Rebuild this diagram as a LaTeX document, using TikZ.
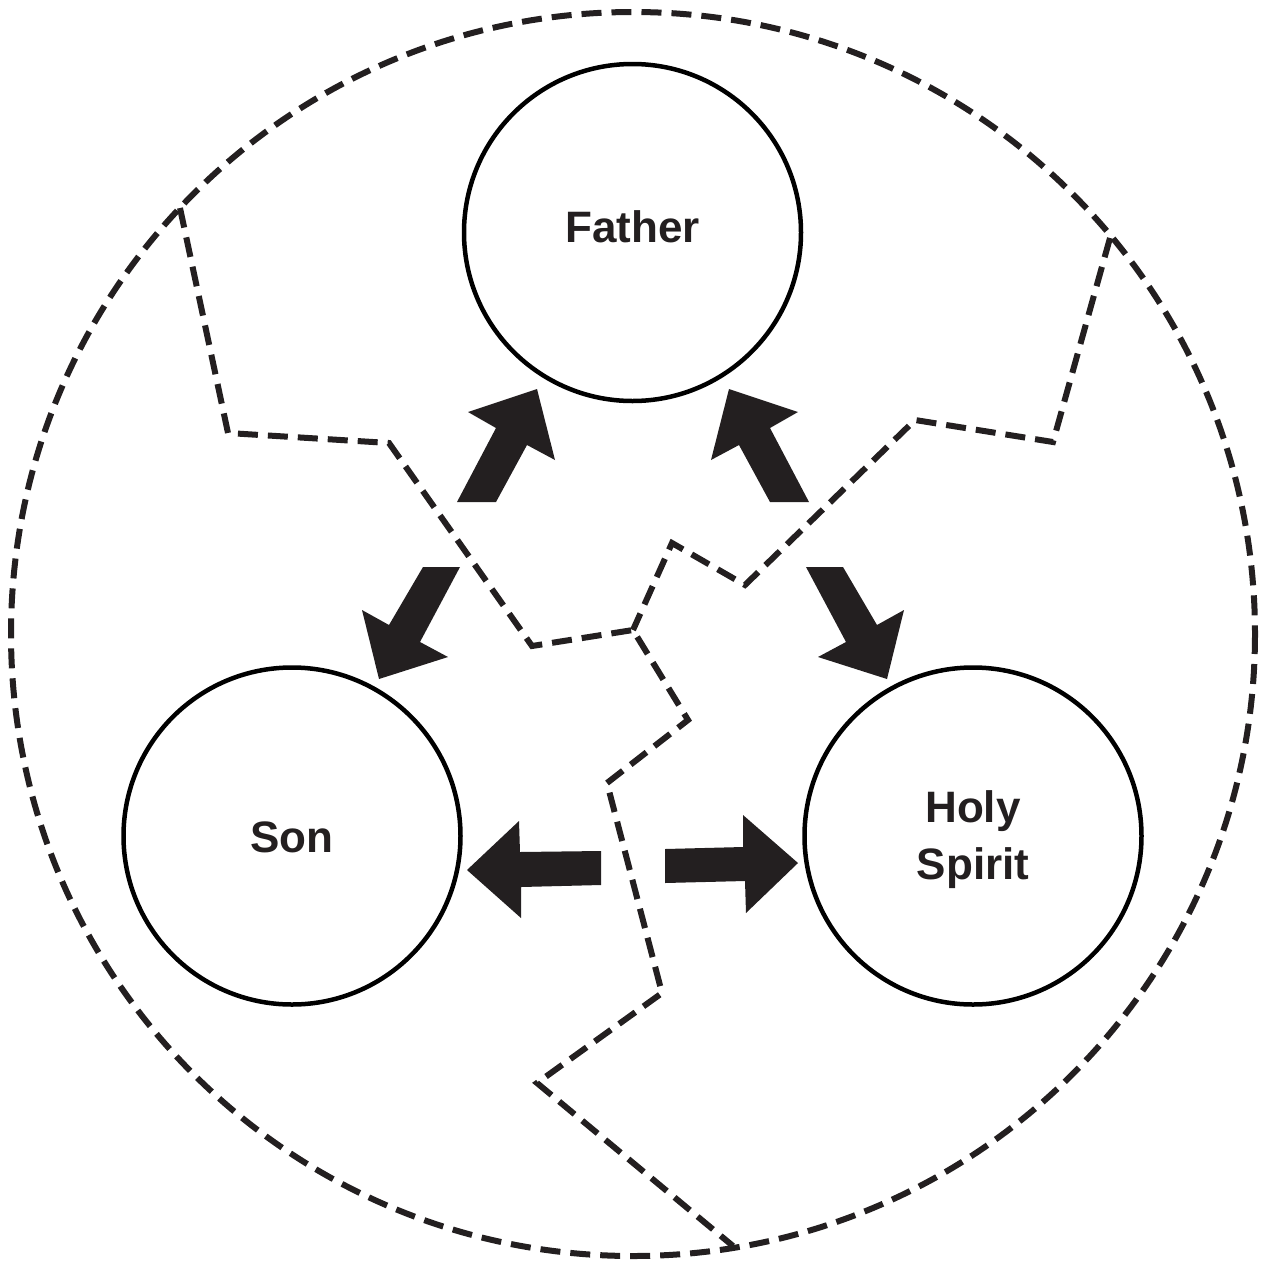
\documentclass[tikz,border=0pt]{standalone}
\usepackage{fontspec}
\setmainfont{Liberation Sans}
\definecolor{ink}{HTML}{231F20}
\begin{document}
\begin{tikzpicture}[x=1pt,y=-1pt,
  person/.style={circle,draw=black,line width=4.5pt,minimum size=337pt,inner sep=0pt,fill=white,
     font=\fontsize{44}{57}\selectfont\bfseries,text=ink,align=center},
  crack/.style={draw=ink,line width=6pt,dash pattern=on 20pt off 10pt},
  blockarrow/.style={fill=ink,draw=none}]
\useasboundingbox (0,0) rectangle (1262,1262);
% outer dashed circle
\draw[crack] (633,634) circle (622);
% cracks
\draw[crack] (180,208) -- (228,433) -- (389,443) -- (532,646) -- (633,630) -- (688,720) -- (607,783) -- (662,993) -- (537,1083) -- (733,1246);
\draw[crack] (1110,238) -- (1053,442) -- (915,420) -- (745,585) -- (672,543) -- (633,630);
% persons
\node[person] (father) at (632.5,232.5) {Father\rule[-12.3pt]{0pt}{12.3pt}};
\node[person] (son) at (292,836) {\rule{0pt}{34pt}Son};
\node[person] (spirit) at (973,836) {\rule{0pt}{40pt}Holy\\Spirit};
% block arrows
\fill[blockarrow] (457,502) -- (496,428) -- (468,412) -- (537,389) -- (555,460) -- (527,445) -- (496,502) -- cycle;
\fill[blockarrow] (423,567) -- (460,567) -- (420,642) -- (448,657) -- (379,679) -- (362,610) -- (389,625) -- cycle;
\fill[blockarrow] (809,502) -- (770,428) -- (798,412) -- (729,389) -- (711,460) -- (739,445) -- (770,502) -- cycle;
\fill[blockarrow] (843,567) -- (806,567) -- (846,642) -- (818,657) -- (887,679) -- (904,610) -- (877,625) -- cycle;
\fill[blockarrow] (601,851) -- (520,852) -- (519,821) -- (467,870) -- (521,918) -- (521,887) -- (601,885) -- cycle;
\fill[blockarrow] (665,849) -- (743,847) -- (743,815) -- (798,863) -- (746,913) -- (745,881) -- (665,883) -- cycle;
\end{tikzpicture}
\end{document}
